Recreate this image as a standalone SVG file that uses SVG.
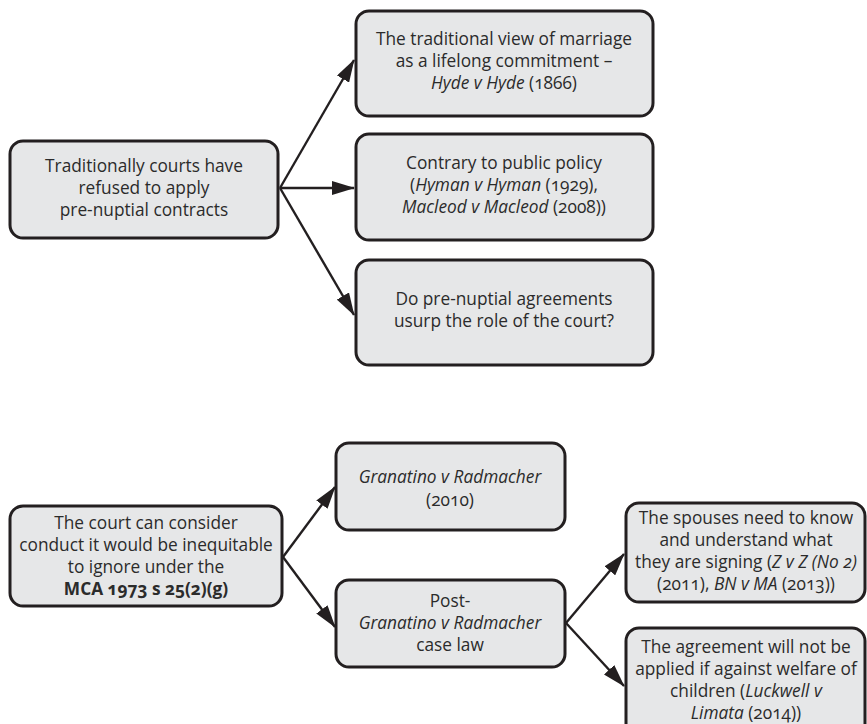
<svg xmlns="http://www.w3.org/2000/svg" width="867" height="724" viewBox="0 0 867 724">
  <style>
    .box { fill: #e6e7e8; stroke: #231f20; stroke-width: 3; }
    .lbl { font-family: "Open Sans", "Noto Sans", "Liberation Sans", sans-serif; font-size: 17.3px; fill: #2b2b2b; text-anchor: middle; font-variant-numeric: oldstyle-nums; }
    .it { font-style: italic; }
    .b { font-weight: bold; }
    .link { stroke: #231f20; stroke-width: 2.4; fill: none; marker-end: url(#head); }
  </style>
  <defs>
    <marker id="head" markerUnits="userSpaceOnUse" markerWidth="24" markerHeight="14" refX="22" refY="7" orient="auto">
      <path d="M0,0 L23,7 L0,14 z" fill="#231f20"/>
    </marker>
  </defs>
  <rect width="867" height="724" fill="#ffffff"/>

  <g id="connectors">
    <line class="link" x1="280" y1="188" x2="354" y2="60"/>
    <line class="link" x1="280" y1="188" x2="354" y2="188"/>
    <line class="link" x1="280" y1="188" x2="354" y2="315"/>
    <line class="link" x1="283" y1="557" x2="335" y2="487"/>
    <line class="link" x1="283" y1="557" x2="335" y2="627"/>
    <line class="link" x1="566" y1="623" x2="624" y2="554"/>
    <line class="link" x1="566" y1="623" x2="624" y2="686"/>
  </g>

  <g id="refusal">
    <rect class="box" x="10" y="141" width="268" height="97" rx="13"/>
    <text class="lbl" x="144" y="172">Traditionally courts have</text>
    <text class="lbl" x="144" y="194">refused to apply</text>
    <text class="lbl" x="144" y="216">pre-nuptial contracts</text>
  </g>

  <g id="traditional-view">
    <rect class="box" x="356" y="11" width="297" height="105" rx="13"/>
    <text class="lbl" x="504" y="45">The traditional view of marriage</text>
    <text class="lbl" x="504" y="67">as a lifelong commitment –</text>
    <text class="lbl" x="504" y="89"><tspan class="it">Hyde v Hyde</tspan> (1866)</text>
  </g>

  <g id="public-policy">
    <rect class="box" x="356" y="134" width="297" height="106" rx="13"/>
    <text class="lbl" x="504" y="169">Contrary to public policy</text>
    <text class="lbl" x="504" y="191">(<tspan class="it">Hyman v Hyman</tspan> (1929),</text>
    <text class="lbl" x="504" y="213"><tspan class="it">Macleod v Macleod</tspan> (2008))</text>
  </g>

  <g id="usurp">
    <rect class="box" x="356" y="260" width="297" height="105" rx="13"/>
    <text class="lbl" x="504" y="305">Do pre-nuptial agreements</text>
    <text class="lbl" x="504" y="327">usurp the role of the court?</text>
  </g>

  <g id="conduct">
    <rect class="box" x="10" y="506" width="272" height="100" rx="13"/>
    <text class="lbl" x="146" y="529">The court can consider</text>
    <text class="lbl" x="146" y="551">conduct it would be inequitable</text>
    <text class="lbl" x="146" y="573">to ignore under the</text>
    <text class="lbl b" x="146" y="595">MCA 1973 s 25(2)(g)</text>
  </g>

  <g id="granatino">
    <rect class="box" x="336" y="443" width="229" height="87" rx="13"/>
    <text class="lbl" x="450" y="483"><tspan class="it">Granatino v Radmacher</tspan></text>
    <text class="lbl" x="450" y="506">(2010)</text>
  </g>

  <g id="post-granatino">
    <rect class="box" x="336" y="580" width="229" height="87" rx="13"/>
    <text class="lbl" x="450" y="607">Post-</text>
    <text class="lbl" x="450" y="629"><tspan class="it">Granatino v Radmacher</tspan></text>
    <text class="lbl" x="450" y="651">case law</text>
  </g>

  <g id="spouses-know">
    <rect class="box" x="626" y="503" width="239" height="99" rx="13"/>
    <text class="lbl" x="746" y="524">The spouses need to know</text>
    <text class="lbl" x="746" y="546">and understand what</text>
    <text class="lbl" x="746" y="568">they are signing (<tspan class="it">Z v Z (No 2)</tspan></text>
    <text class="lbl" x="746" y="590">(2011), <tspan class="it">BN v MA</tspan> (2013))</text>
  </g>

  <g id="child-welfare">
    <rect class="box" x="626" y="628" width="239" height="110" rx="13"/>
    <text class="lbl" x="746" y="653">The agreement will not be</text>
    <text class="lbl" x="746" y="675">applied if against welfare of</text>
    <text class="lbl" x="746" y="697">children (<tspan class="it">Luckwell v</tspan></text>
    <text class="lbl" x="746" y="719"><tspan class="it">Limata</tspan> (2014))</text>
  </g>
</svg>
